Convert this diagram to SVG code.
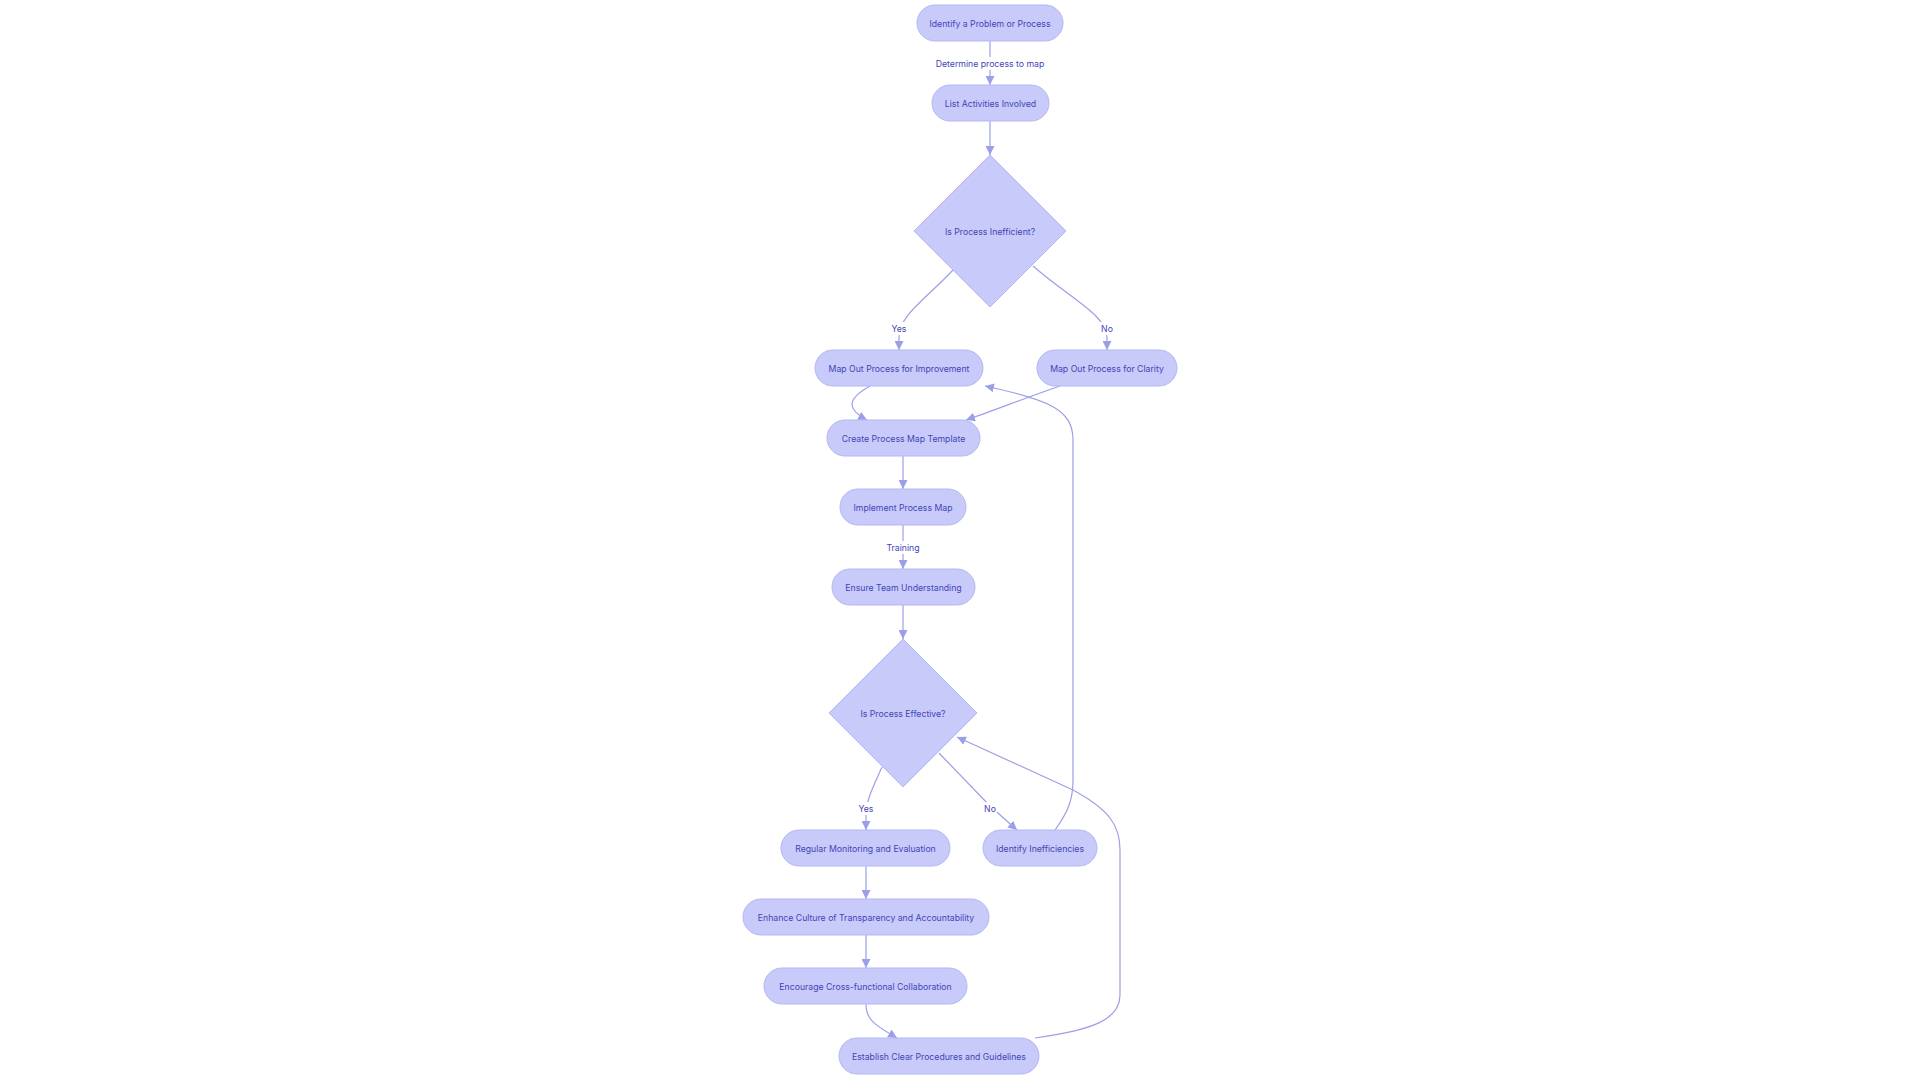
<svg xmlns="http://www.w3.org/2000/svg" width="1920" height="1080" viewBox="0 0 1920 1080">
<style>
.node rect, .node polygon { fill: #c8cafa; stroke: #b4b7f2; stroke-width: 1; }
.node text { font-family: Inter, "Noto Sans", "Liberation Sans", sans-serif; font-size: 8.7px; fill: #4245b6; text-anchor: middle; dominant-baseline: central; }
.edge { fill: none; stroke: #9c9fe8; stroke-width: 1.2; marker-end: url(#arrow); }
.elabel { font-family: Inter, "Noto Sans", "Liberation Sans", sans-serif; font-size: 8.7px; fill: #4245b6; text-anchor: middle; dominant-baseline: central; }
.lbg { fill: #ffffff; }
</style>
<defs>
<marker id="arrow" viewBox="0 0 10 10" refX="10" refY="5" markerWidth="9" markerHeight="9" markerUnits="userSpaceOnUse" orient="auto">
<path d="M0,0 L10,5 L0,10 z" fill="#9c9fe8"/>
</marker>
</defs>
<rect width="1920" height="1080" fill="#ffffff"/>
<g id="connectors">
<path class="edge" d="M990,41 L990,85"/>
<path class="edge" d="M990,121 L990,155"/>
<path class="edge" d="M953,270 C925,300 899,315 899,338 L899,350"/>
<path class="edge" d="M1033,266 C1072,300 1107,315 1107,338 L1107,350"/>
<path class="edge" d="M870,386 C845,400 848,410 867,420"/>
<path class="edge" d="M1060,386 C1020,400 995,410 966,420"/>
<path class="edge" d="M903,456 L903,489"/>
<path class="edge" d="M903,525 L903,569"/>
<path class="edge" d="M903,605 L903,639"/>
<path class="edge" d="M882,767 C874,785 866,800 866,815 L866,830"/>
<path class="edge" d="M939,753 L990,806 L1017,830"/>
<path class="edge" d="M1055,830 C1068,812 1073,800 1073,780 L1073,440 C1073,410 1050,400 985,386"/>
<path class="edge" d="M866,866 L866,899"/>
<path class="edge" d="M866,935 L866,968"/>
<path class="edge" d="M866,1004 C866,1020 875,1025 897,1038"/>
<path class="edge" d="M1035,1038 C1092,1030 1120,1020 1120,995 L1120,850 C1120,826 1110,810 1073,790 L957,737"/>
<rect class="lbg" x="934" y="57" width="112" height="13"/>
<text class="elabel" x="990" y="64">Determine process to map</text>
<rect class="lbg" x="890" y="322" width="18" height="13"/>
<text class="elabel" x="899" y="328.5">Yes</text>
<rect class="lbg" x="1100" y="322" width="14" height="13"/>
<text class="elabel" x="1107" y="328.5">No</text>
<rect class="lbg" x="887" y="541" width="32" height="13"/>
<text class="elabel" x="903" y="547.5">Training</text>
<rect class="lbg" x="857" y="802" width="18" height="13"/>
<text class="elabel" x="866" y="808.5">Yes</text>
<rect class="lbg" x="983" y="802" width="14" height="13"/>
<text class="elabel" x="990" y="808.5">No</text>
</g>
<g id="n1" class="node"><rect x="917" y="5" width="146" height="36" rx="18"/><text x="990" y="24">Identify a Problem or Process</text></g>
<g id="n2" class="node"><rect x="932" y="85" width="117" height="36" rx="18"/><text x="990.5" y="104">List Activities Involved</text></g>
<g id="n3" class="node"><polygon points="990,155 1066,231 990,307 914,231"/><text x="990" y="231.5">Is Process Inefficient?</text></g>
<g id="n4" class="node"><rect x="815" y="350" width="168" height="36" rx="18"/><text x="899" y="369">Map Out Process for Improvement</text></g>
<g id="n5" class="node"><rect x="1037" y="350" width="140" height="36" rx="18"/><text x="1107" y="369">Map Out Process for Clarity</text></g>
<g id="n6" class="node"><rect x="827" y="420" width="153" height="36" rx="18"/><text x="903.5" y="439">Create Process Map Template</text></g>
<g id="n7" class="node"><rect x="840" y="489" width="126" height="36" rx="18"/><text x="903" y="508">Implement Process Map</text></g>
<g id="n8" class="node"><rect x="832" y="569" width="143" height="36" rx="18"/><text x="903.5" y="588">Ensure Team Understanding</text></g>
<g id="n9" class="node"><polygon points="903,639 977,713 903,787 829,713"/><text x="903" y="713.5">Is Process Effective?</text></g>
<g id="n10" class="node"><rect x="781" y="830" width="169" height="36" rx="18"/><text x="865.5" y="849">Regular Monitoring and Evaluation</text></g>
<g id="n11" class="node"><rect x="983" y="830" width="114" height="36" rx="18"/><text x="1040" y="849">Identify Inefficiencies</text></g>
<g id="n12" class="node"><rect x="743" y="899" width="246" height="36" rx="18"/><text x="866" y="918">Enhance Culture of Transparency and Accountability</text></g>
<g id="n13" class="node"><rect x="764" y="968" width="203" height="36" rx="18"/><text x="865.5" y="987">Encourage Cross-functional Collaboration</text></g>
<g id="n14" class="node"><rect x="839" y="1038" width="200" height="36" rx="18"/><text x="939" y="1057">Establish Clear Procedures and Guidelines</text></g>
</svg>
